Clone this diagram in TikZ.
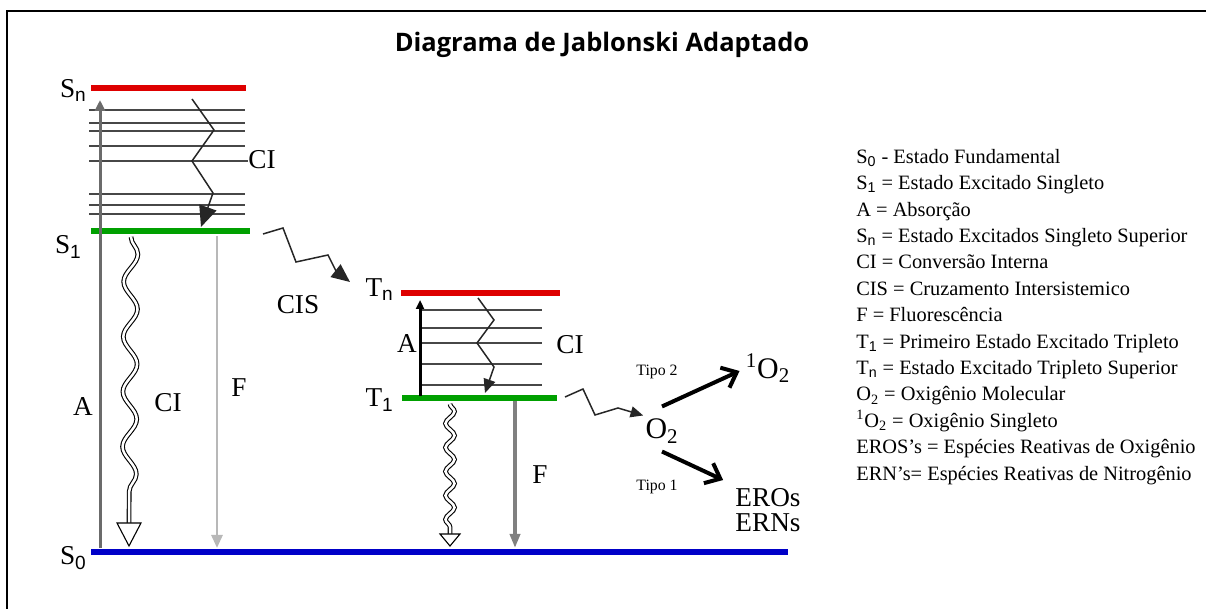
\documentclass[tikz,border=0pt]{standalone}
\usepackage{fontspec}
\setmainfont{Liberation Serif}
\newfontfamily\titlefont{Open Sans}
\newfontfamily\subsans{Liberation Sans}
\usetikzlibrary{arrows.meta, decorations.pathmorphing}

\definecolor{lvlred}{RGB}{222,0,0}
\definecolor{lvlgreen}{RGB}{0,160,0}
\definecolor{lvlblue}{RGB}{0,0,200}

\begin{document}
\begin{tikzpicture}[x=0.2mm, y=-0.2mm, >=Stealth,
  lvl/.style={line width=1.3mm},
  sublvl/.style={line width=0.3mm, black!72},
  big/.style={font=\fontsize{15.5}{17}\selectfont, inner sep=0pt},
  small/.style={font=\fontsize{9}{10}\selectfont, inner sep=0pt},
  leg/.style={font=\fontsize{11.6}{13}\selectfont, inner sep=0pt, anchor=base west},
  zig/.style={line width=0.3mm, black!85, line join=miter, -{Triangle[width=#1, length=1.15*#1]}},
  wavy/.style={double, double distance=0.5mm, line width=0.22mm, decorate,
    decoration={snake, amplitude=#1, segment length=11mm, post length=3.4mm}},
  head/.style={line width=0.22mm, fill=white},
  tipo/.style={line width=0.8mm, -{Straight Barb[length=2.6mm, width=4.4mm]}}]
  \useasboundingbox (0,0) rectangle (1206,609);
  % Frame
  \draw[line width=0.4mm] (1206,11) -- (7,11) -- (7,609);
  \node (title) at (602,45) {\titlefont\bfseries\fontsize{14.5}{16}\selectfont Diagrama de Jablonski Adaptado};

  % Singlet levels
  \draw[lvl, lvlred] (91,88) -- (246,88);
  \foreach \y in {110,123,131,146,194,205,214}
    \draw[sublvl] (89,\y) -- (245,\y);
  \draw[sublvl] (89,161) -- (248,161);
  \draw[lvl, lvlgreen] (91,231) -- (250,231);
  \draw[lvl, lvlblue] (91,552) -- (788,552);
  \node[big, anchor=base east] (sn) at (87,98) {S\textsubscript{\subsans n}};
  \node[big, anchor=base east] (s1) at (82,254) {S\textsubscript{\subsans 1}};
  \node[big, anchor=base east] (s0) at (87,565) {S\textsubscript{\subsans 0}};

  % Absorption, internal conversion, fluorescence (singlet)
  \coordinate (aS0) at (100,548);
  \coordinate (aSn) at (100,100);
  \draw[line width=0.6mm, black!58, -{Triangle[width=2mm, length=2.2mm]}] (aS0) -- (aSn);
  \node[big] (aS) at (83,407) {A};
  \coordinate (ciSa) at (192,99);
  \coordinate (ciSb) at (201,227);
  \draw[zig=3.6mm] (ciSa) -- (214,130) -- (192,161) -- (213,193) -- (ciSb);
  \node[big, anchor=west] (ciS) at (248,160) {CI};
  \coordinate (wSa) at (131,237);
  \coordinate (wSb) at (129,523);
  \draw[wavy=1.4mm] (wSa) -- (wSb);
  \draw[head] (wSb) -- ++(-12,0) -- ++(12,23) -- ++(12,-23) -- cycle;
  \node[big] (ciS2) at (168,403) {CI};
  \coordinate (fSa) at (217,236);
  \coordinate (fSb) at (217,548);
  \draw[line width=0.55mm, black!28, -{Triangle[width=2.2mm, length=2.6mm]}] (fSa) -- (fSb);
  \node[big] (fS) at (239,388) {F};

  % Intersystem crossing
  \coordinate (cisA) at (263,234);
  \coordinate (cisB) at (350,282);
  \draw[zig=3.2mm] (cisA) -- (283,228) -- (296,262) -- (328,255) -- (336,271) -- (cisB);
  \node[big] (cis) at (298,305) {CIS};

  % Triplet levels
  \draw[lvl, lvlred] (401,293) -- (560,293);
  \foreach \y in {310,328,343,364,385}
    \draw[sublvl] (420,\y) -- (542,\y);
  \draw[lvl, lvlgreen] (402,398) -- (557,398);
  \node[big, anchor=base east] (tn) at (394,297) {T\textsubscript{\subsans n}};
  \node[big, anchor=base east] (t1) at (394,407) {T\textsubscript{\subsans 1}};

  % Absorption, internal conversion, fluorescence (triplet)
  \coordinate (aT1) at (420,396);
  \coordinate (aTn) at (420,300);
  \draw[line width=0.6mm, -{Triangle[width=1.6mm, length=1.8mm]}] (aT1) -- (aTn);
  \node[big] (aT) at (407,344) {A};
  \coordinate (ciTa) at (478,298);
  \coordinate (ciTb) at (485,393);
  \draw[zig=2.4mm] (ciTa) -- (494,320) -- (477,343) -- (494,367) -- (ciTb);
  \node[big] (ciT) at (570,345) {CI};
  \coordinate (wTa) at (450,404);
  \coordinate (wTb) at (450,534);
  \draw[wavy=0.9mm, decoration={segment length=4.8mm, post length=1mm}] (wTa) -- (wTb);
  \draw[head] (wTb) -- ++(-10,0) -- ++(10,12) -- ++(10,-12) -- cycle;
  \coordinate (fTa) at (515,401);
  \coordinate (fTb) at (515,548);
  \draw[line width=0.7mm, black!50, -{Triangle[width=2mm, length=2.8mm]}] (fTa) -- (fTb);
  \node[big] (fT) at (540,475) {F};

  % Oxygen
  \node[big, font=\fontsize{17}{17}\selectfont] (o2) at (662,431) {O\textsubscript{2}};
  \coordinate (o2in) at (565,397);
  \draw[zig=2.2mm] (o2in) -- (583,389) -- (595,415) -- (618,408) -- ([shift={(-2,-3)}]o2.north west);
  \node[big, font=\fontsize{17}{17}\selectfont] (so2) at (768,368) {\textsuperscript{1}O\textsubscript{2}};
  \node[big, font=\fontsize{15.5}{14.2}\selectfont, align=center] (eros) at (768,510) {EROs\\ERNs};
  \draw[tipo] ([yshift=2.4mm]o2.north) -- ([shift={(-1.2mm,-0.6mm)}]so2.west);
  \draw[tipo] ([yshift=-1.6mm]o2.south) -- ([shift={(-2.4mm,1.6mm)}]eros.north west);
  \node[small] (tipo2) at (657,372) {Tipo 2};
  \node[small] (tipo1) at (657,487) {Tipo 1};

  % Legend
  \foreach \txt [count=\i] in {
    {S\textsubscript{\subsans 0} - Estado Fundamental},
    {S\textsubscript{\subsans 1} = Estado Excitado Singleto},
    {A = Absorção},
    {S\textsubscript{\subsans n} = Estado Excitados Singleto Superior},
    {CI = Conversão Interna},
    {CIS = Cruzamento Intersistemico},
    {F = Fluorescência},
    {T\textsubscript{\subsans 1} = Primeiro Estado Excitado Tripleto},
    {T\textsubscript{\subsans n} = Estado Excitado Tripleto Superior},
    {O\textsubscript{2} = Oxigênio Molecular},
    {\textsuperscript{1}O\textsubscript{2} = Oxigênio Singleto},
    {EROS’s = Espécies Reativas de Oxigênio},
    {ERN’s= Espécies Reativas de Nitrogênio}}
    \node[leg] (leg\i) at (856,137+26.4*\i) {\txt};
\end{tikzpicture}
\end{document}
